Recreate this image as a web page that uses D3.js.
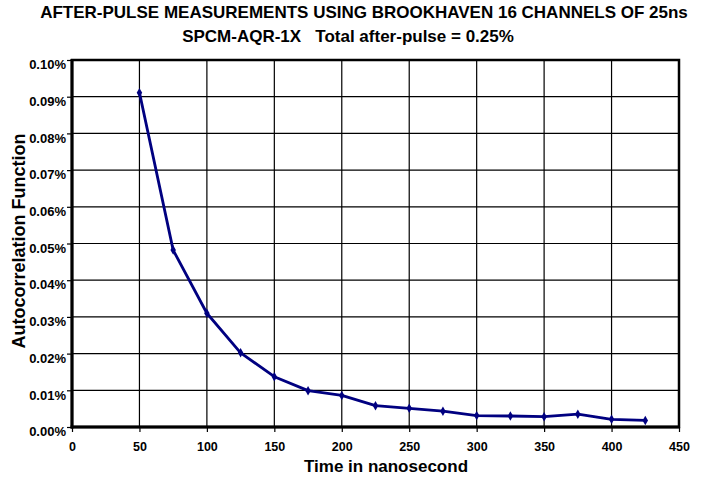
<!DOCTYPE html>
<html>
<head>
<meta charset="utf-8">
<script src="https://cdn.jsdelivr.net/npm/d3@7"></script>
<style>
  body { margin: 0; background: #fff; }
  text { font-family: Arial, "Liberation Sans", sans-serif; font-weight: bold; fill: #000; }
</style>
</head>
<body>
<svg width="702" height="487"></svg>
<script>
// data (time in ns, autocorrelation in %)
let times = [50, 75, 100, 125, 150, 175, 200, 225, 250, 275, 300, 325, 350, 375, 400, 425];
let values = [0.0911, 0.0482, 0.0310, 0.0202, 0.0137, 0.0099, 0.0086, 0.0058, 0.0051, 0.0043, 0.0031, 0.0030, 0.0028, 0.0035, 0.0021, 0.0018];
let x_ticks = [0, 50, 100, 150, 200, 250, 300, 350, 400, 450];
let y_ticks = [0, 0.01, 0.02, 0.03, 0.04, 0.05, 0.06, 0.07, 0.08, 0.09, 0.10];
let title_lines = ["AFTER-PULSE MEASUREMENTS USING BROOKHAVEN 16 CHANNELS OF 25ns",
                   "SPCM-AQR-1X   Total after-pulse = 0.25%"];

let plot_left = 72, plot_right = 679, plot_top = 60, plot_bottom = 427;

let svg = d3.select('svg');

let x = d3.scaleLinear().domain([0, 450]).range([plot_left, plot_right]);
let y = d3.scaleLinear().domain([0, 0.10]).range([plot_bottom, plot_top]);

// grid
svg.append('g')
    .selectAll('line')
    .data(x_ticks.slice(1, -1))
    .join('line')
    .attr('x1', function (d) { return x(d); })
    .attr('x2', function (d) { return x(d); })
    .attr('y1', plot_top)
    .attr('y2', plot_bottom)
    .attr('stroke', '#000')
    .attr('stroke-width', 1.2);

svg.append('g')
    .selectAll('line')
    .data(y_ticks.slice(1, -1))
    .join('line')
    .attr('x1', plot_left)
    .attr('x2', plot_right)
    .attr('y1', function (d) { return y(d); })
    .attr('y2', function (d) { return y(d); })
    .attr('stroke', '#000')
    .attr('stroke-width', 1.2);

// axes
let xAxis = svg.append('g')
    .attr('transform', 'translate(0,' + plot_bottom + ')')
    .call(d3.axisBottom(x).tickValues(x_ticks).tickSize(5).tickPadding(10).tickFormat(d3.format('d')));
let yAxis = svg.append('g')
    .attr('transform', 'translate(' + plot_left + ',0)')
    .call(d3.axisLeft(y).tickValues(y_ticks).tickSize(5).tickPadding(1).tickFormat(function (d) { return d.toFixed(2) + '%'; }));

[xAxis, yAxis].forEach(function (g) {
    g.select('.domain').remove();
    g.selectAll('line').attr('stroke', '#000').attr('stroke-width', 1.2);
    g.selectAll('text').attr('font-weight', 'bold').attr('font-family', 'Arial, "Liberation Sans", sans-serif');
});
xAxis.selectAll('text').attr('font-size', 12.5);
yAxis.selectAll('text').attr('font-size', 13).attr('dy', '0.67em');

// plot frame
svg.append('rect')
    .attr('x', plot_left)
    .attr('y', plot_top)
    .attr('width', plot_right - plot_left)
    .attr('height', plot_bottom - plot_top)
    .attr('fill', 'none')
    .attr('stroke', '#000')
    .attr('stroke-width', 2.5);
svg.append('line')
    .attr('x1', plot_left).attr('x2', plot_left)
    .attr('y1', plot_top - 1).attr('y2', plot_bottom + 1.5)
    .attr('stroke', '#000').attr('stroke-width', 3);
svg.append('line')
    .attr('x1', plot_left - 1.5).attr('x2', plot_right + 1)
    .attr('y1', plot_bottom).attr('y2', plot_bottom)
    .attr('stroke', '#000').attr('stroke-width', 3);

// series
let points = times.map(function (t, i) { return { t: t, v: values[i] }; });

svg.append('path')
    .datum(points)
    .attr('fill', 'none')
    .attr('stroke', '#000080')
    .attr('stroke-width', 2.8)
    .attr('stroke-linejoin', 'round')
    .attr('d', d3.line().x(function (d) { return x(d.t); }).y(function (d) { return y(d.v); }));

svg.append('g')
    .selectAll('path')
    .data(points)
    .join('path')
    .attr('transform', function (d) { return 'translate(' + x(d.t) + ',' + y(d.v) + ')'; })
    .attr('d', d3.symbol(d3.symbolDiamond, 26))
    .attr('fill', '#000080');

// titles
svg.selectAll('text.title')
    .data(title_lines)
    .join('text')
    .attr('class', 'title')
    .attr('x', function (d, i) { return i === 0 ? 364 : 348; })
    .attr('y', function (d, i) { return i === 0 ? 18 : 42; })
    .attr('text-anchor', 'middle')
    .attr('font-size', 17)
    .style('white-space', 'pre')
    .text(function (d) { return d; });

svg.append('text')
    .attr('x', 386)
    .attr('y', 472)
    .attr('text-anchor', 'middle')
    .attr('font-size', 17)
    .text('Time in nanosecond');

svg.append('text')
    .attr('transform', 'translate(25,241) rotate(-90)')
    .attr('text-anchor', 'middle')
    .attr('font-size', 18)
    .text('Autocorrelation Function');
</script>
</body>
</html>
